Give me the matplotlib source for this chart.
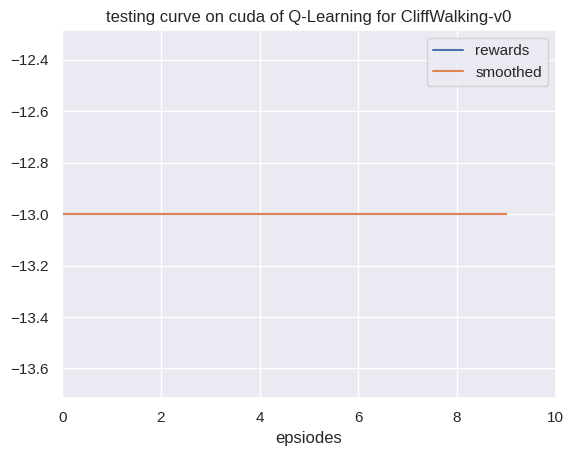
import matplotlib
matplotlib.use("Agg")
import matplotlib.pyplot as plt
import seaborn as sns

sns.set_theme()
plt.rcParams['font.family'] = ['Liberation Sans', 'DejaVu Sans']

episodes = [0, 1, 2, 3, 4, 5, 6, 7, 8, 9]
rewards = [-13, -13, -13, -13, -13, -13, -13, -13, -13, -13]
smoothed = [-13, -13, -13, -13, -13, -13, -13, -13, -13, -13]

fig = plt.figure(figsize=(5.76, 4.57), dpi=100)
ax = fig.add_subplot(111)
fig.subplots_adjust(left=0.108, right=0.965, top=0.934, bottom=0.129)

ax.set_title("testing curve on cuda of Q-Learning for CliffWalking-v0")
ax.plot(episodes, rewards, label="rewards")
ax.plot(episodes, smoothed, label="smoothed")
ax.set_xlim(0, 10)
ax.set_xlabel("epsiodes")
ax.legend()

fig.savefig("out.png", dpi=100)
